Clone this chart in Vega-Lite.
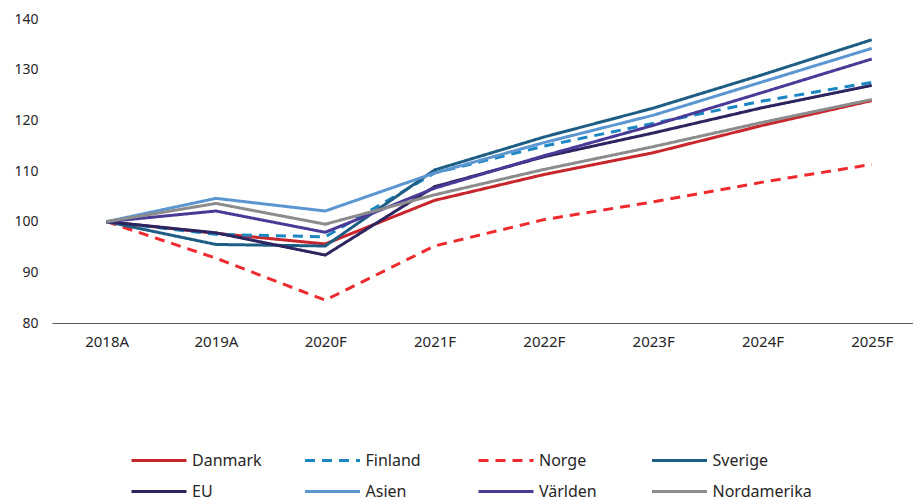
{
  "$schema": "https://vega.github.io/schema/vega-lite/v6.json",
  "autosize": "none",
  "width": 861,
  "height": 304,
  "padding": {"left": 52, "top": 19, "right": 0, "bottom": 176},
  "background": "white",
  "config": {
    "view": {"stroke": null},
    "font": "Noto Sans",
    "legend": {
      "orient": "none",
      "legendX": 78,
      "legendY": 426,
      "columns": 4,
      "gridAlign": "all",
      "padding": 0,
      "symbolType": "stroke",
      "symbolSize": 3025,
      "symbolStrokeWidth": 3,
      "clipHeight": 31,
      "labelOffset": 4,
      "labelFontSize": 16,
      "labelColor": "#262626",
      "labelFont": "Noto Sans",
      "columnPadding": 11.5,
      "rowPadding": 0,
      "title": null,
      "labelLimit": 200
    }
  },
  "data": {
    "values": [
      {"year": "2018A", "serie": "Danmark", "value": 100},
      {"year": "2019A", "serie": "Danmark", "value": 97.7},
      {"year": "2020F", "serie": "Danmark", "value": 95.6},
      {"year": "2021F", "serie": "Danmark", "value": 104.2},
      {"year": "2022F", "serie": "Danmark", "value": 109.3},
      {"year": "2023F", "serie": "Danmark", "value": 113.6},
      {"year": "2024F", "serie": "Danmark", "value": 119.0},
      {"year": "2025F", "serie": "Danmark", "value": 123.9},
      {"year": "2018A", "serie": "Finland", "value": 100},
      {"year": "2019A", "serie": "Finland", "value": 97.5},
      {"year": "2020F", "serie": "Finland", "value": 97.0},
      {"year": "2021F", "serie": "Finland", "value": 109.6},
      {"year": "2022F", "serie": "Finland", "value": 114.9},
      {"year": "2023F", "serie": "Finland", "value": 119.4},
      {"year": "2024F", "serie": "Finland", "value": 123.8},
      {"year": "2025F", "serie": "Finland", "value": 127.5},
      {"year": "2018A", "serie": "Norge", "value": 100},
      {"year": "2019A", "serie": "Norge", "value": 92.8},
      {"year": "2020F", "serie": "Norge", "value": 84.5},
      {"year": "2021F", "serie": "Norge", "value": 95.2},
      {"year": "2022F", "serie": "Norge", "value": 100.4},
      {"year": "2023F", "serie": "Norge", "value": 103.9},
      {"year": "2024F", "serie": "Norge", "value": 107.8},
      {"year": "2025F", "serie": "Norge", "value": 111.3},
      {"year": "2018A", "serie": "Sverige", "value": 100},
      {"year": "2019A", "serie": "Sverige", "value": 95.5},
      {"year": "2020F", "serie": "Sverige", "value": 95.2},
      {"year": "2021F", "serie": "Sverige", "value": 110.2},
      {"year": "2022F", "serie": "Sverige", "value": 116.7},
      {"year": "2023F", "serie": "Sverige", "value": 122.4},
      {"year": "2024F", "serie": "Sverige", "value": 129.0},
      {"year": "2025F", "serie": "Sverige", "value": 135.9},
      {"year": "2018A", "serie": "EU", "value": 100},
      {"year": "2019A", "serie": "EU", "value": 97.8},
      {"year": "2020F", "serie": "EU", "value": 93.4},
      {"year": "2021F", "serie": "EU", "value": 106.9},
      {"year": "2022F", "serie": "EU", "value": 112.8},
      {"year": "2023F", "serie": "EU", "value": 117.5},
      {"year": "2024F", "serie": "EU", "value": 122.5},
      {"year": "2025F", "serie": "EU", "value": 126.9},
      {"year": "2018A", "serie": "Asien", "value": 100},
      {"year": "2019A", "serie": "Asien", "value": 104.6},
      {"year": "2020F", "serie": "Asien", "value": 102.1},
      {"year": "2021F", "serie": "Asien", "value": 109.6},
      {"year": "2022F", "serie": "Asien", "value": 115.6},
      {"year": "2023F", "serie": "Asien", "value": 121.0},
      {"year": "2024F", "serie": "Asien", "value": 127.6},
      {"year": "2025F", "serie": "Asien", "value": 134.2},
      {"year": "2018A", "serie": "Världen", "value": 100},
      {"year": "2019A", "serie": "Världen", "value": 102.1},
      {"year": "2020F", "serie": "Världen", "value": 97.9},
      {"year": "2021F", "serie": "Världen", "value": 106.6},
      {"year": "2022F", "serie": "Världen", "value": 113.0},
      {"year": "2023F", "serie": "Världen", "value": 119.0},
      {"year": "2024F", "serie": "Världen", "value": 125.5},
      {"year": "2025F", "serie": "Världen", "value": 132.1},
      {"year": "2018A", "serie": "Nordamerika", "value": 100},
      {"year": "2019A", "serie": "Nordamerika", "value": 103.6},
      {"year": "2020F", "serie": "Nordamerika", "value": 99.5},
      {"year": "2021F", "serie": "Nordamerika", "value": 105.3},
      {"year": "2022F", "serie": "Nordamerika", "value": 110.3},
      {"year": "2023F", "serie": "Nordamerika", "value": 114.8},
      {"year": "2024F", "serie": "Nordamerika", "value": 119.6},
      {"year": "2025F", "serie": "Nordamerika", "value": 124.1}
    ]
  },
  "mark": {"type": "line", "strokeWidth": 3, "strokeJoin": "miter", "strokeCap": "butt"},
  "encoding": {
    "x": {
      "field": "year",
      "type": "ordinal",
      "sort": null,
      "scale": {"type": "point", "range": [0, 874.4], "padding": 0.5},
      "axis": {
        "title": null,
        "labelAngle": 0,
        "ticks": false,
        "grid": false,
        "domainColor": "#595959",
        "domainWidth": 1,
        "labelFontSize": 15,
        "labelColor": "#262626",
        "labelPadding": 11
      }
    },
    "y": {
      "field": "value",
      "type": "quantitative",
      "scale": {"domain": [80, 140], "nice": false, "zero": false},
      "axis": {
        "title": null,
        "values": [80, 90, 100, 110, 120, 130, 140],
        "ticks": false,
        "domain": false,
        "grid": false,
        "labelFontSize": 14,
        "labelColor": "#262626",
        "labelPadding": 14
      }
    },
    "color": {
      "field": "serie",
      "type": "nominal",
      "scale": {
        "domain": ["Danmark", "EU", "Finland", "Asien", "Norge", "Världen", "Sverige", "Nordamerika"],
        "range": ["#C8252C", "#2D2560", "#1A86C2", "#5B96D0", "#EE2A2F", "#4A3A98", "#1E5E84", "#8C8C8C"]
      }
    },
    "strokeDash": {
      "field": "serie",
      "type": "nominal",
      "scale": {
        "domain": ["Danmark", "EU", "Finland", "Asien", "Norge", "Världen", "Sverige", "Nordamerika"],
        "range": [[1, 0], [1, 0], [10, 7], [1, 0], [10, 7], [1, 0], [1, 0], [1, 0]]
      }
    }
  }
}
